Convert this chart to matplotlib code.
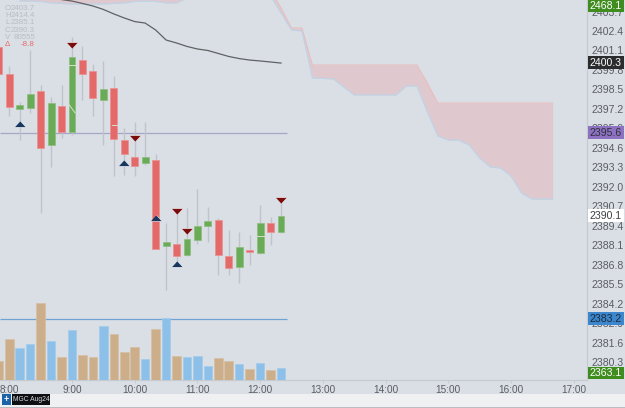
import matplotlib
matplotlib.use("Agg")
import matplotlib.pyplot as plt
from matplotlib.patches import Rectangle
from matplotlib.transforms import blended_transform_factory

plt.rcParams['font.family'] = ['Liberation Sans', 'DejaVu Sans']

# Bar times, minutes after midnight (10-minute bars)
bar_minutes = [470, 480, 490, 500, 510, 520, 530, 540, 550, 560, 570, 580, 590, 600,
               610, 620, 630, 640, 650, 660, 670, 680, 690, 700, 710, 720, 730, 740]
opens = [2401.33, 2399.53, 2397.19, 2397.26, 2398.39, 2394.79, 2397.39, 2395.66, 2400.46, 2399.73,
         2397.79, 2398.60, 2395.12, 2393.99, 2393.59, 2393.79, 2388.05, 2388.18, 2387.45, 2388.45,
         2389.38, 2389.78, 2387.38, 2386.65, 2387.78, 2387.58, 2389.58, 2388.98]
highs = [2401.80, 2400.06, 2397.66, 2401.13, 2398.80, 2397.99, 2398.80, 2402.00, 2401.40, 2400.20,
         2400.40, 2399.40, 2395.92, 2396.33, 2396.33, 2394.19, 2389.58, 2390.25, 2390.58, 2391.85,
         2390.65, 2389.92, 2389.12, 2388.98, 2388.78, 2390.78, 2389.98, 2391.12]
lows = [2399.53, 2396.73, 2395.12, 2396.93, 2390.25, 2393.32, 2395.26, 2395.46, 2397.79, 2396.73,
        2394.79, 2392.72, 2392.79, 2392.72, 2393.45, 2387.85, 2385.11, 2386.91, 2387.38, 2388.18,
        2388.31, 2386.11, 2386.11, 2385.58, 2386.78, 2387.51, 2388.11, 2388.92]
closes = [2399.53, 2397.33, 2397.43, 2398.19, 2394.59, 2397.59, 2395.66, 2400.66, 2399.53, 2397.93,
          2398.53, 2395.19, 2394.19, 2393.39, 2393.99, 2387.85, 2388.31, 2387.38, 2388.51, 2389.38,
          2389.72, 2387.45, 2386.61, 2387.98, 2387.65, 2389.58, 2388.98, 2390.05]
volumes = [1850, 4050, 3150, 3550, 7650, 3850, 2250, 4950, 2450, 2250, 5350, 4550, 2750, 3250,
           2050, 5050, 6150, 2350, 2250, 2350, 1350, 2150, 1850, 1550, 1050, 1650, 950, 1150]
volume_up = [False, False, True, True, False, True, False, True, False, False, True, False, False,
             False, True, False, True, False, True, True, True, False, False, True, False, True,
             False, True]

# Moving average
avg_minutes = [530, 540, 550, 560, 570, 580, 590, 600, 610, 620, 630, 640, 650, 660, 670, 680,
               690, 700, 710, 720, 730, 740]
avg_values = [2404.50, 2404.40, 2404.24, 2404.07, 2403.84, 2403.54, 2403.27, 2403.03, 2402.93,
              2402.47, 2401.80, 2401.60, 2401.37, 2401.20, 2401.10, 2400.90, 2400.70, 2400.56,
              2400.46, 2400.40, 2400.33, 2400.26]

# Cloud, older section running along the top edge
cloud_a_minutes = [490, 500, 510, 520, 530, 540, 550, 560, 570, 580, 590, 600, 610, 620, 630, 640, 650]
cloud_a_upper = [2404.60] * 17
cloud_a_lower = [2404.40, 2404.40, 2404.37, 2404.27, 2404.24, 2404.20, 2404.20, 2404.20, 2404.20,
                 2404.24, 2404.27, 2404.37, 2404.40, 2404.37, 2404.27, 2404.27, 2404.60]

# Cloud, projected section
cloud_b_minutes = [730, 740, 750, 760, 770, 780, 790, 800, 810, 820, 830, 840, 850, 860, 870, 880,
                   890, 900, 910, 920, 930, 940, 950, 960, 970, 980, 990, 1000]
cloud_b_upper = [2405.14, 2403.94, 2402.60, 2402.60, 2400.13, 2400.13, 2400.13, 2400.13, 2400.13,
                 2400.13, 2400.13, 2400.13, 2400.13, 2400.13, 2400.13, 2398.93, 2397.59, 2397.59,
                 2397.59, 2397.59, 2397.59, 2397.59, 2397.59, 2397.59, 2397.59, 2397.59, 2397.59,
                 2397.59]
cloud_b_lower = [2404.74, 2403.60, 2402.47, 2402.40, 2399.26, 2399.23, 2399.20, 2398.66, 2398.13,
                 2398.13, 2398.13, 2398.13, 2398.13, 2398.73, 2398.73, 2396.99, 2395.39, 2395.12,
                 2395.12, 2394.79, 2393.92, 2393.32, 2393.25, 2392.72, 2391.59, 2391.18, 2391.18,
                 2391.18]

# Pale indicator strokes showing across the bar bodies
stroke_minutes = [(536, 543), (537, 543), (578, 583), (717, 724)]
stroke_prices = [(2397.59, 2396.93), (2400.10, 2400.10), (2396.10, 2396.10), (2388.72, 2388.72)]

# Signal markers
sell_minutes = [540, 600, 640, 650, 740]
sell_prices = [2401.47, 2395.26, 2390.38, 2389.05, 2391.12]
buy_minutes = [490, 590, 620, 640]
buy_prices = [2396.19, 2393.59, 2389.92, 2386.85]

# Axis labelling
price_ticks = [2403.7, 2402.4, 2401.1, 2399.8, 2398.5, 2397.2, 2395.9, 2394.6, 2393.3, 2392.0,
               2390.7, 2389.4, 2388.1, 2386.8, 2385.5, 2384.2, 2382.9, 2381.6, 2380.3]
hour_ticks = [480, 540, 600, 660, 720, 780, 840, 900, 960, 1020]
hour_labels = ['8:00', '9:00', '10:00', '11:00', '12:00', '13:00', '14:00', '15:00', '16:00', '17:00']

# Data readout in the top-left corner
readout_keys = ['O', 'H', 'L', 'C', 'V', '\u0394']
readout_values = ['2403.7', '2414.4', '2385.1', '2390.3', '80555', '-8.8']

last_price = 2400.3
trend_price = 2395.6
current_price = 2390.1
lower_level = 2383.2
upper_tag = 2468.1
lower_tag = 2363.1

BG = '#DADFE6'
RED = '#E46A6A'
GREEN = '#6AAB57'
W, H = 625, 408

fig = plt.figure(figsize=(6.25, 4.08), dpi=100, facecolor=BG)
ax = fig.add_axes([0, (H - 380) / H, 587 / W, 380 / H], facecolor=BG)
ax.set_xlim(471.1, 1032.8)
ax.set_ylim(2379.10, 2404.47)

# Volume panel shares the time scale and sits on the bottom of the plot area
vax = fig.add_axes([0, (H - 379.5) / H, 587 / W, 80 / H], facecolor='none', sharex=ax)
vax.set_ylim(0, 8000)
vax.axis('off')
vax.bar(bar_minutes, volumes, width=8.2,
        color=['#8CC0E8' if up else '#CDAE8A' for up in volume_up],
        edgecolor=['#A3CCEC' if up else '#D6BFA2' for up in volume_up], linewidth=0.5, zorder=2)

# Cloud bands
for minutes, upper, lower in [(cloud_a_minutes, cloud_a_upper, cloud_a_lower),
                              (cloud_b_minutes, cloud_b_upper, cloud_b_lower)]:
    ax.fill_between(minutes, lower, upper, color='#DFC9CF', linewidth=0, zorder=1)
    ax.plot(minutes, upper, color='#E8BFBF', lw=0.8, zorder=1.5)
    ax.plot(minutes, lower, color='#BCD4E8', lw=0.8, zorder=1.5)

# Price levels stop just past the last bar
ax.hlines(trend_price, 471.1, 745.7, color='#A7A6C6', lw=0.9, zorder=1.6)
ax.hlines(lower_level, 471.1, 745.7, color='#6FA3D2', lw=0.9, zorder=3)

# Candles
ax.vlines(bar_minutes, lows, highs, color='#C0C4CA', lw=1.0, zorder=2)
body_low = [min(o, c) for o, c in zip(opens, closes)]
body_size = [abs(c - o) for o, c in zip(opens, closes)]
up_bar = [c >= o for o, c in zip(opens, closes)]
ax.bar(bar_minutes, body_size, bottom=body_low, width=6.6,
       color=[GREEN if u else RED for u in up_bar],
       edgecolor=['#8DBE7E' if u else '#EB8F8F' for u in up_bar], linewidth=0.5, zorder=2.5)

for stroke_x, stroke_y in zip(stroke_minutes, stroke_prices):
    ax.plot(stroke_x, stroke_y, color='#D3E2CB', lw=0.7, zorder=2.8)

ax.plot(avg_minutes, avg_values, color='#5F6264', lw=0.9, zorder=3)

# Signal triangles
down_tri = [(-1, 0.5), (1, 0.5), (0, -0.6)]
up_tri = [(-1, -0.5), (1, -0.5), (0, 0.6)]
ax.scatter(sell_minutes, sell_prices, marker=down_tri, s=64, color='#7A0C0C',
           edgecolors='#F2E6E6', linewidths=0.4, zorder=4)
ax.scatter(buy_minutes, buy_prices, marker=up_tri, s=64, color='#17375E',
           edgecolors='#EAF0F6', linewidths=0.4, zorder=4)

# Axes and ticks
for side in ['top', 'left']:
    ax.spines[side].set_visible(False)
for side in ['bottom', 'right']:
    ax.spines[side].set_color('#C6CBD1')
    ax.spines[side].set_linewidth(0.9)
ax.yaxis.tick_right()
ax.set_yticks(price_ticks)
ax.set_yticklabels([f'{t:.1f}' for t in price_ticks])
ax.set_xticks(hour_ticks)
ax.set_xticklabels(hour_labels)
ax.tick_params(axis='y', length=0, pad=3, labelsize=7.6, labelcolor='#5A5D61')
ax.tick_params(axis='x', length=2, width=0.7, color='#C6CBD1', pad=1.5, labelsize=7.2, labelcolor='#5A5D61')

# Readout
for row, (key, value) in enumerate(zip(readout_keys, readout_values)):
    colour = RED if key == '\u0394' else '#B8BDC6'
    y = 1 - (8.5 + row * 7.2) / H
    fig.text(5 / W, y, key, color=colour, fontsize=5.7, va='center', ha='left', zorder=6)
    fig.text(35 / W, y, value, color=colour, fontsize=5.7, va='center', ha='right', zorder=6)

# Price tags on the scale
scale_tf = blended_transform_factory(fig.transFigure, ax.transData)


def scale_tag(price, face, ink):
    ax.add_patch(Rectangle((588 / W, price - 0.43), 36 / W, 0.86, transform=scale_tf, facecolor=face,
                           edgecolor='none', clip_on=False, zorder=8))
    ax.text(606 / W, price - 0.02, f'{price:.1f}', transform=scale_tf, color=ink, fontsize=7.6,
            ha='center', va='center', clip_on=False, zorder=9)


def pinned_tag(price, top_px, bottom_px, face):
    fig.add_artist(Rectangle((588 / W, 1 - bottom_px / H), 36 / W, (bottom_px - top_px) / H,
                             transform=fig.transFigure, facecolor=face, edgecolor='none', zorder=8))
    fig.text(606 / W, 1 - (top_px + bottom_px) / 2 / H, f'{price:.1f}', color='white', fontsize=7.6,
             ha='center', va='center', zorder=9)


scale_tag(last_price, '#2B2C2E', 'white')
scale_tag(trend_price, '#8E72C2', '#2F2F3A')
scale_tag(current_price, '#FFFFFF', '#3C3F43')
scale_tag(lower_level, '#3C86CE', '#1E2A38')
pinned_tag(upper_tag, 0, 12, '#3F8C1F')
pinned_tag(lower_tag, 367, 378.5, '#3F8C1F')

# Instrument strip along the bottom
fig.add_artist(Rectangle((0, 1 / H), 1, 13 / H, transform=fig.transFigure, facecolor='#EEF0F2',
                         edgecolor='none', zorder=5))
fig.add_artist(Rectangle((0, 0), 1, 1 / H, transform=fig.transFigure, facecolor='#B9BCC0',
                         edgecolor='none', zorder=5))
fig.add_artist(Rectangle((12 / W, 3 / H), 38 / W, 11 / H, transform=fig.transFigure, facecolor='#0E0F12',
                         edgecolor='none', zorder=6))
fig.add_artist(Rectangle((2 / W, 3 / H), 9 / W, 11 / H, transform=fig.transFigure, facecolor='#1B62A8',
                         edgecolor='none', zorder=6))
fig.text(6.5 / W, 8.5 / H, '+', color='white', fontsize=6.5, fontweight='bold', ha='center', va='center', zorder=7)
fig.text(31 / W, 8.5 / H, 'MGC Aug24', color='#D5D7DA', fontsize=4.9, ha='center', va='center', zorder=7)

fig.savefig('out.png', dpi=100, facecolor=BG)
